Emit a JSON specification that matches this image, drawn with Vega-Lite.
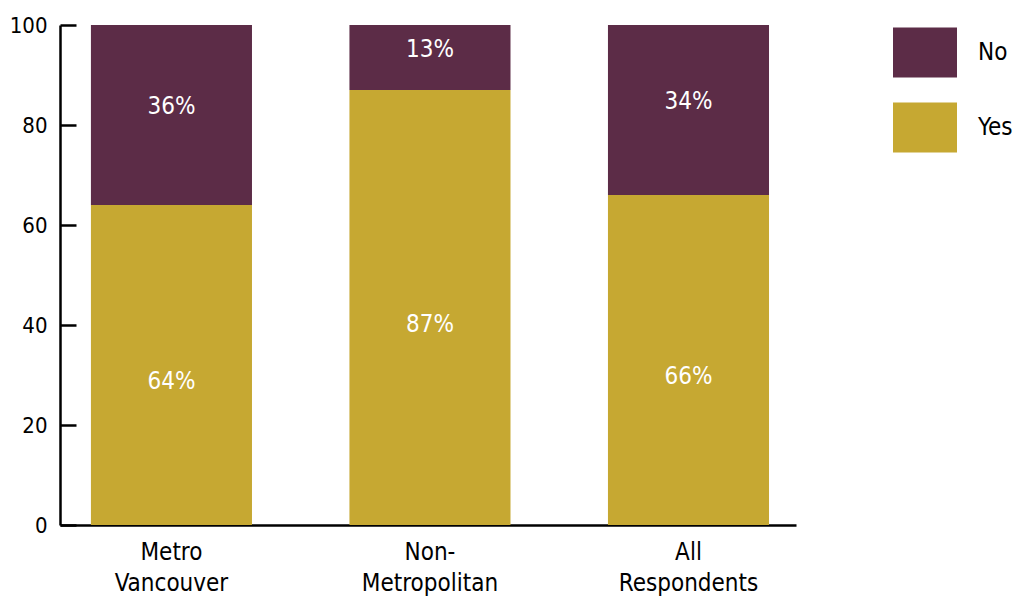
{
  "$schema": "https://vega.github.io/schema/vega-lite/v6.json",
  "width": 736,
  "height": 500,
  "autosize": {"type": "none"},
  "padding": {"left": 60, "top": 25, "right": 217, "bottom": 74},
  "background": "white",
  "config": {
    "view": {"stroke": null},
    "font": "DejaVu Sans Condensed",
    "axis": {"domainColor": "black", "domainWidth": 2.5, "tickColor": "black", "tickWidth": 2.5, "labelColor": "black", "labelFont": "DejaVu Sans Condensed", "grid": false, "title": null}
  },
  "data": {
    "values": [
      {"region": "Metro Vancouver", "answer": "Yes", "value": 64},
      {"region": "Metro Vancouver", "answer": "No", "value": 36},
      {"region": "Non-Metropolitan", "answer": "Yes", "value": 87},
      {"region": "Non-Metropolitan", "answer": "No", "value": 13},
      {"region": "All Respondents", "answer": "Yes", "value": 66},
      {"region": "All Respondents", "answer": "No", "value": 34}
    ]
  },
  "encoding": {
    "x": {
      "field": "region",
      "type": "nominal",
      "sort": null,
      "scale": {"paddingInner": 0.377, "paddingOuter": 0.112, "align": 0.534},
      "axis": {
        "labelAngle": 0,
        "ticks": false,
        "labelFontSize": 24,
        "labelPadding": 15,
        "labelLineHeight": 31,
        "labelBaseline": "top",
        "labelExpr": "datum.value == 'Non-Metropolitan' ? ['Non-', 'Metropolitan'] : split(datum.value, ' ')"
      }
    }
  },
  "layer": [
    {
      "mark": {"type": "bar"},
      "encoding": {
        "y": {
          "field": "value",
          "type": "quantitative",
          "stack": "zero",
          "scale": {"domain": [0, 100], "nice": false},
          "axis": {"values": [0, 20, 40, 60, 80, 100], "ticks": false, "labelFontSize": 22, "labelPadding": 13}
        },
        "color": {
          "field": "answer",
          "type": "nominal",
          "scale": {"domain": ["No", "Yes"], "range": ["#5c2c47", "#c6a832"]},
          "legend": {
            "title": null,
            "orient": "none",
            "legendX": 833,
            "legendY": -4.5,
            "padding": 0,
            "symbolType": "M-1,-0.78L1,-0.78L1,0.78L-1,0.78Z",
            "symbolSize": 4096,
            "symbolStrokeWidth": 0,
            "rowPadding": 18,
            "labelOffset": 21,
            "labelFontSize": 24,
            "labelColor": "black",
            "labelFont": "DejaVu Sans Condensed"
          }
        },
        "order": {"field": "answer", "sort": "descending"}
      }
    },
    {
      "mark": {"type": "rule", "opacity": 0},
      "encoding": {
        "y": {
          "field": "value",
          "type": "quantitative",
          "scale": {"domain": [0, 100], "nice": false},
          "axis": {"orient": "right", "offset": -736, "values": [0, 20, 40, 60, 80, 100], "labels": false, "domain": false, "tickSize": 16}
        }
      }
    },
    {
      "transform": [
        {"stack": "value", "groupby": ["region"], "sort": [{"field": "answer", "order": "descending"}], "as": ["v0", "v1"]},
        {"calculate": "(datum.v0 + datum.v1) / 2", "as": "mid"},
        {"calculate": "datum.value + '%'", "as": "label"},
        {"filter": "datum.answer == 'Yes'"}
      ],
      "mark": {"type": "text", "color": "white", "fontSize": 24, "baseline": "middle", "dy": 17},
      "encoding": {
        "y": {"field": "mid", "type": "quantitative", "axis": null},
        "text": {"field": "label"}
      }
    },
    {
      "transform": [
        {"stack": "value", "groupby": ["region"], "sort": [{"field": "answer", "order": "descending"}], "as": ["v0", "v1"]},
        {"calculate": "(datum.v0 + datum.v1) / 2", "as": "mid"},
        {"calculate": "datum.value + '%'", "as": "label"},
        {"filter": "datum.answer == 'No'"}
      ],
      "mark": {"type": "text", "color": "white", "fontSize": 24, "baseline": "middle", "dy": -8},
      "encoding": {
        "y": {"field": "mid", "type": "quantitative", "axis": null},
        "text": {"field": "label"}
      }
    }
  ],
  "resolve": {"axis": {"y": "independent"}}
}
